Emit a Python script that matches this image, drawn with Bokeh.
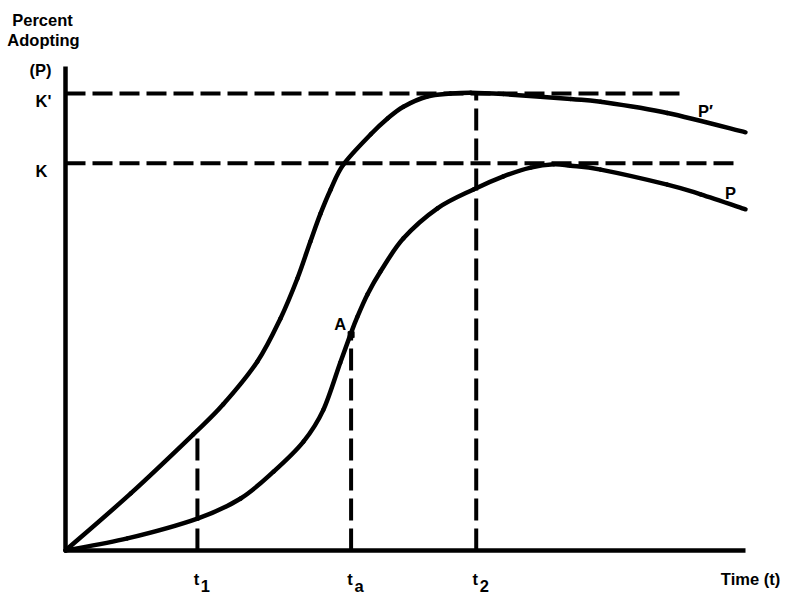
from bokeh.plotting import figure
from bokeh.models import Range1d
from bokeh.embed import file_html
from bokeh.resources import INLINE
from bokeh.core.properties import value

# ---------------- data ----------------
# upper curve P'
t_prime = [0, 9.6, 18.8, 23.2, 28.2, 31.6, 34.1, 36.0, 37.5, 39.0, 40.9,
           44.9, 47.4, 49.7, 53.2, 56.6, 59.6, 64.4, 74.3, 78.7, 88.5, 100]
p_prime = [0, 11.8, 24.0, 30.2, 39.0, 47.9, 56.2, 63.8, 69.6, 74.6, 79.8,
           86.0, 89.3, 91.7, 93.8, 94.4, 94.6, 94.3, 93.3, 92.7, 90.4, 86.4]
# lower curve P
t_curve = [0, 9.1, 19.4, 25.7, 30.6, 35.0, 37.9, 40.4, 41.9, 42.9, 44.4,
           46.3, 49.7, 54.7, 60.0, 64.4, 68.4, 71.8, 74.3, 78.7, 88.5, 93.4, 100]
p_curve = [0, 2.5, 6.6, 10.7, 16.3, 22.5, 29.0, 38.8, 44.6, 48.2, 52.9,
           57.6, 64.5, 70.7, 74.6, 77.3, 79.1, 79.8, 79.5, 78.7, 75.6, 73.6, 70.5]

K_prime = 94.4
K = 80.0
K_prime_end = 90.4
K_end = 98.8
t1, ta, t2 = 19.4, 42.0, 60.4
p_at_t1 = 24.0
A_level = 44.6
axis_max_t = 100
axis_max_p = 100

tick_pos = [t1, ta, t2]
tick_main = ["t", "t", "t"]
tick_sub = ["1", "a", "2"]

# ---------------- layout ----------------
W, H = 787, 595
SX, SY = 6.8, 4.84          # pixels per data unit
OX, OY = 65, 45              # origin position inside canvas (from left / from bottom)

p = figure(width=W, height=H, output_backend="svg", toolbar_location=None,
           x_range=Range1d(-OX / SX, (W - OX) / SX),
           y_range=Range1d(-OY / SY, (H - OY) / SY),
           x_axis_type=None, y_axis_type=None, min_border=0,
           outline_line_color=None, background_fill_color="white",
           border_fill_color="white")
p.xgrid.visible = False
p.ygrid.visible = False


def at(x, y, dxp=0.0, dyp=0.0):
    """data point shifted by screen pixels (dyp positive = down)"""
    return x + dxp / SX, y - dyp / SY


def smooth_curve(fig, xs, ys, **kw):
    """draw a smooth curve through the data points (Catmull-Rom as Bezier segments)"""
    n = len(xs)
    x0, y0, x1, y1, cx0, cy0, cx1, cy1 = ([] for _ in range(8))
    for i in range(n - 1):
        ip = max(i - 1, 0)
        inx = min(i + 2, n - 1)
        x0.append(xs[i]); y0.append(ys[i])
        x1.append(xs[i + 1]); y1.append(ys[i + 1])
        cx0.append(xs[i] + (xs[i + 1] - xs[ip]) / 6.0)
        cy0.append(ys[i] + (ys[i + 1] - ys[ip]) / 6.0)
        cx1.append(xs[i + 1] - (xs[inx] - xs[i]) / 6.0)
        cy1.append(ys[i + 1] - (ys[inx] - ys[i]) / 6.0)
    fig.bezier(x0=x0, y0=y0, x1=x1, y1=y1, cx0=cx0, cy0=cy0, cx1=cx1, cy1=cy1, **kw)


FONT = value("Liberation Sans")
TXT = dict(text_font=FONT, text_font_size="16.5px", text_font_style="bold",
           text_color="black")

DASH_H = "20 7"
DASH_V = "22 8"
LW_D = 4
LW = 4.5

# dashed reference lines
p.line([0, K_prime_end], [K_prime, K_prime], line_color="black", line_width=LW_D, line_dash=DASH_H)
p.line([0, K_end], [K, K], line_color="black", line_width=LW_D, line_dash=DASH_H)
p.line([t1, t1], [0, p_at_t1], line_color="black", line_width=LW_D, line_dash=DASH_V)
p.line([ta, ta], [0, A_level], line_color="black", line_width=LW_D, line_dash=DASH_V)
p.line([t2, t2], [0, K_prime], line_color="black", line_width=LW_D, line_dash=DASH_V)

# curves
smooth_curve(p, t_prime, p_prime, line_color="black", line_width=LW, line_cap="round")
smooth_curve(p, t_curve, p_curve, line_color="black", line_width=LW, line_cap="round")
p.scatter([ta], [A_level], marker="square", size=6, fill_color="black", line_color="black")

# axes
p.line([0, 0], [0, axis_max_p], line_color="black", line_width=LW)
p.line([0, axis_max_t], [0, 0], line_color="black", line_width=LW)

# axis titles
x, y = at(0, axis_max_p, -23, -47)
p.text([x], [y], text=["Percent"], text_align="center", text_baseline="alphabetic", **TXT)
x, y = at(0, axis_max_p, -22, -27)
p.text([x], [y], text=["Adopting"], text_align="center", text_baseline="alphabetic", **TXT)
x, y = at(0, axis_max_p, -25, 3)
p.text([x], [y], text=["(P)"], text_align="center", text_baseline="alphabetic", **TXT)
x, y = at(axis_max_t, 0, 5, 28)
p.text([x], [y], text=["Time (t)"], text_align="center", text_baseline="alphabetic", **TXT)

# K labels
x, y = at(0, K_prime, -22, 7)
p.text([x], [y], text=["K'"], text_align="center", text_baseline="alphabetic", **TXT)
x, y = at(0, K, -24, 8)
p.text([x], [y], text=["K"], text_align="center", text_baseline="alphabetic", **TXT)

# time tick labels
mx = [at(t, 0, -1, 28)[0] for t in tick_pos]
my = [at(t, 0, -1, 28)[1] for t in tick_pos]
p.text(mx, my, text=tick_main, text_align="center", text_baseline="alphabetic", **TXT)
sx = [at(t, 0, 8, 35)[0] for t in tick_pos]
sy = [at(t, 0, 8, 35)[1] for t in tick_pos]
p.text(sx, sy, text=tick_sub, text_align="center", text_baseline="alphabetic", **TXT)

# point & curve labels
x, y = at(ta, A_level, -11, -11)
p.text([x], [y], text=["A"], text_align="center", text_baseline="alphabetic", **TXT)
x, y = at(t_prime[-1], p_prime[-1], -40, -21)
p.text([x], [y], text=["P\u2032"], text_align="center", text_baseline="alphabetic", **TXT)
x, y = at(t_curve[-1], p_curve[-1], -15, -16)
p.text([x], [y], text=["P"], text_align="center", text_baseline="alphabetic", **TXT)

open("out.html", "w").write(file_html(p, INLINE))
